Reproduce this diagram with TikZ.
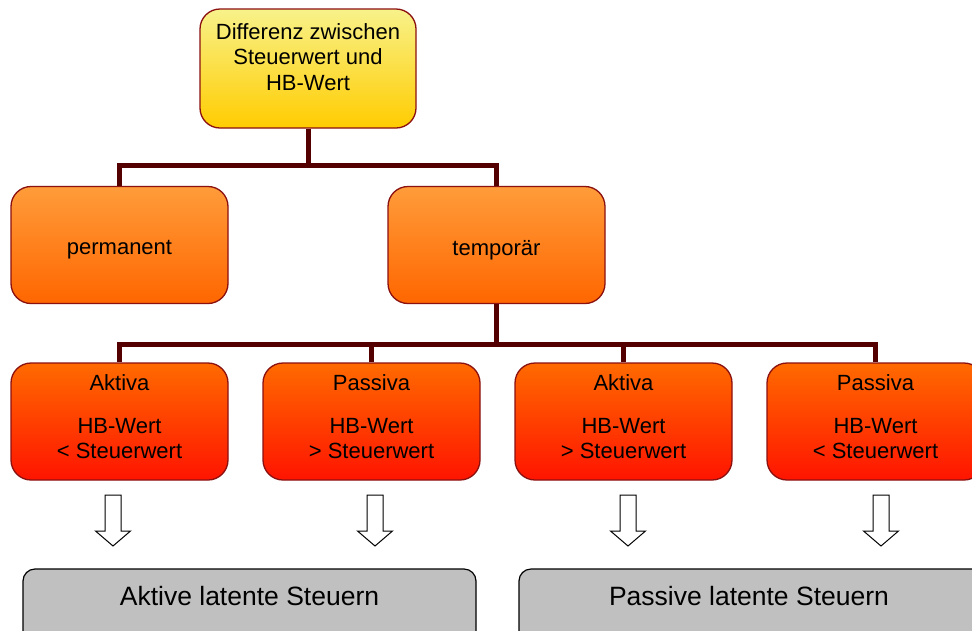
\documentclass[tikz,border=0pt]{standalone}
\usepackage{fontspec}
\setmainfont{Liberation Sans}
\definecolor{conn}{HTML}{550000}
\definecolor{bord}{HTML}{8B1010}
\definecolor{ytop}{HTML}{F8F28A}
\definecolor{ybot}{HTML}{FFCC00}
\definecolor{otop}{HTML}{FF9C3A}
\definecolor{obot}{HTML}{FF6600}
\definecolor{rtop}{HTML}{FF6A00}
\definecolor{rbot}{HTML}{FF1400}
\definecolor{greyfill}{HTML}{C0C0C0}
\begin{document}
\begin{tikzpicture}[x=1pt,y=-1pt,
  box/.style={draw=bord,line width=1.3pt,rounded corners=20pt,minimum width=217pt,minimum height=117pt,inner sep=0pt},
  yelbox/.style={box,top color=ytop,bottom color=ybot,minimum width=216pt,minimum height=119pt},
  orbox/.style={box,top color=otop,bottom color=obot},
  redbox/.style={box,top color=rtop,bottom color=rbot},
  greybox/.style={draw=black,line width=1.2pt,rounded corners=12pt,fill=greyfill,minimum height=90pt,inner sep=0pt},
  txt/.style={font=\fontsize{22}{25.5}\selectfont,align=center,inner sep=0pt},
  bigtxt/.style={font=\fontsize{26.5}{30}\selectfont,inner sep=0pt},
  conline/.style={draw=conn,line width=5pt},
  blockarrow/.style={draw=black,line width=1pt,fill=white,line join=miter}
]
\useasboundingbox (0,0) rectangle (972,630);
\clip (0,0) rectangle (972,630);

% top
\node[yelbox] (top) at (308,68.5) {};
\node[txt] (toptxt) at (308,57) {Differenz zwischen\\Steuerwert und\\HB-Wert};

% second row
\node[orbox] (perm) at (119.5,245) {};
\node[txt] (permtxt) at (119.5,250) {permanent};
\node[orbox] (temp) at (496.5,245) {};
\node[txt] (temptxt) at (496.5,250) {temporär};

% third row
\node[redbox] (a1) at (119.5,421.5) {};
\node[redbox] (p1) at (371.5,421.5) {};
\node[redbox] (a2) at (623.5,421.5) {};
\node[redbox] (p2) at (875.5,421.5) {};
\node[txt] (a1t) at (119.5,417) {Aktiva\\[17pt]HB-Wert\\< Steuerwert};
\node[txt] (p1t) at (371.5,417) {Passiva\\[17pt]HB-Wert\\> Steuerwert};
\node[txt] (a2t) at (623.5,417) {Aktiva\\[17pt]HB-Wert\\> Steuerwert};
\node[txt] (p2t) at (875.5,417) {Passiva\\[17pt]HB-Wert\\< Steuerwert};

% connectors
\coordinate (j1) at (308,165);
\coordinate (j2) at (496.5,344);
\draw[conline] (top.south) -- (j1);
\draw[conline,line join=miter] (perm.north) |- (j1) -| (temp.north);
\draw[conline] (temp.south) -- (j2);
\draw[conline,line join=miter] (a1.north) |- (j2) -| (p2.north);
\draw[conline] (p1.north) -- (p1.north |- j2);
\draw[conline] (a2.north) -- (a2.north |- j2);

% bottom boxes
\node[greybox,minimum width=453pt] (ak) at (249.5,614) {};
\node[bigtxt] (akt) at (249.5,596) {Aktive latente Steuern};
\node[greybox,minimum width=480pt] (pa) at (759,614) {};
\node[bigtxt] (pat) at (749,596) {Passive latente Steuern};

% block arrows
\foreach \n/\cx in {b1/113,b2/375,b3/628,b4/881}{
  \draw[blockarrow] (\cx-8,495) -- (\cx+8,495) -- (\cx+8,531) -- (\cx+17.5,531)
     -- (\cx,546) -- (\cx-17.5,531) -- (\cx-8,531) -- cycle;
}
\end{tikzpicture}
\end{document}
